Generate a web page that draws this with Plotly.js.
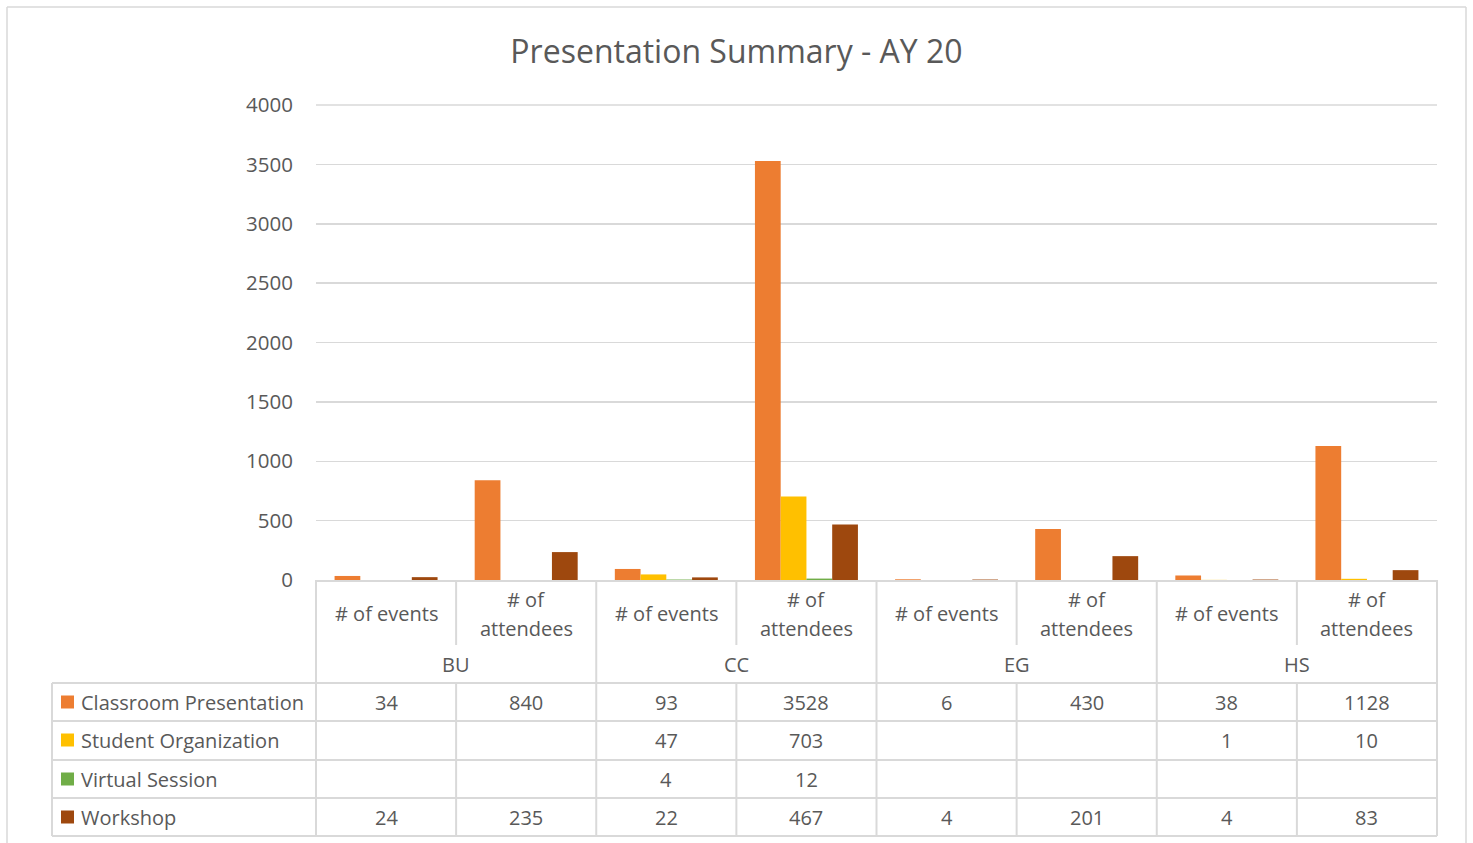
<!DOCTYPE html>
<html>
<head>
<meta charset="utf-8">
<script src="https://cdn.plot.ly/plotly-3.0.1.min.js"></script>
<style>html,body{margin:0;padding:0;background:#fff;}#chart{width:1473px;height:843px;}</style>
</head>
<body>
<div id="chart"></div>
<script>
// ---- data ----
const groups = ['BU', 'CC', 'EG', 'HS'];
const measures = ['# of events', '# of attendees'];
const seriesNames = ['Classroom Presentation', 'Student Organization', 'Virtual Session', 'Workshop'];
const classroom = [34, 840, 93, 3528, 6, 430, 38, 1128];
const studentOrg = [null, null, 47, 703, null, null, 1, 10];
const virtualSession = [null, null, 4, 12, null, null, null, null];
const workshop = [24, 235, 22, 467, 4, 201, 4, 83];
const yTicks = [0, 500, 1000, 1500, 2000, 2500, 3000, 3500, 4000];
const colors = ['#ED7D31', '#FFC000', '#70AD47', '#9E480E'];

const allSeries = [classroom, studentOrg, virtualSession, workshop];
const nCat = groups.length * measures.length;
const xIdx = Array.from({length: nCat}, (_, i) => i);

// ---- geometry (pixels -> paper) ----
const L = 316, R = 1437, T = 105, B = 580, W = 1473, H = 843;
const px = x => (x - L) / (R - L);
const py = y => (B - y) / (B - T);
const colX = i => i / nCat; // boundary i in paper
const FONT = 'Open Sans, Noto Sans, sans-serif';
const TXT = '#595959';
const LINE = '#D9D9D9';
const TSIZE = 20;

const traces = allSeries.map((vals, k) => ({
  type: 'bar', x: xIdx, y: vals, name: seriesNames[k],
  marker: {color: colors[k]}, hoverinfo: 'skip'
}));

const shapes = [];
const annotations = [];
function line(x0, y0, x1, y1, w, layer) {
  shapes.push({type: 'line', xref: 'paper', yref: 'paper', x0, y0, x1, y1,
    line: {color: LINE, width: w || 2}, layer: layer || 'above'});
}
// outer frame
line(px(7), py(7), px(1466), py(7), 1.5);
line(px(7), py(7), px(7), py(850), 1.5);
line(px(1466), py(7), px(1466), py(850), 1.5);
// top gridline (4000)
line(0, 1, 1, 1, 1.5, 'below');

// table vertical lines
for (let i = 0; i <= nCat; i++) {
  if (i % 2 === 0) line(colX(i), 0, colX(i), py(836));
  else { line(colX(i), 0, colX(i), py(645)); line(colX(i), py(683), colX(i), py(836)); }
}
line(px(52), py(683), px(52), py(836));
// table horizontal lines
[683, 721, 760, 798, 836].forEach(y => line(px(52), py(y), 1, py(y)));

function txt(x, y, text, anchor) {
  annotations.push({xref: 'paper', yref: 'paper', x, y, text, showarrow: false,
    font: {family: FONT, size: TSIZE, color: TXT}, xanchor: anchor || 'center', yanchor: 'middle'});
}
// header labels
for (let g = 0; g < groups.length; g++) {
  for (let m = 0; m < measures.length; m++) {
    const c = g * measures.length + m;
    const xc = (c + 0.5) / nCat;
    const words = measures[m].split(' ');
    if (measures[m].length > 12) {
      txt(xc, py(599), words.slice(0, 2).join(' '));
      txt(xc, py(628), words.slice(2).join(' '));
    } else {
      txt(xc, py(613), measures[m]);
    }
  }
  txt((g + 0.5) * measures.length / nCat, py(664), groups[g]);
}
// rows
const rowY = [702, 740, 779, 817];
allSeries.forEach((vals, k) => {
  const yc = rowY[k];
  shapes.push({type: 'rect', xref: 'paper', yref: 'paper', x0: px(61), x1: px(74),
    y0: py(yc - 6.5), y1: py(yc + 6.5), fillcolor: colors[k], line: {width: 0}});
  txt(px(79), py(yc), seriesNames[k], 'left');
  vals.forEach((v, c) => {
    if (v === null) return;
    txt((c + 0.5) / nCat, py(yc), String(v));
  });
});

const layout = {
  width: W, height: H,
  margin: {l: L, r: W - R, t: T, b: H - B, pad: 0},
  paper_bgcolor: '#fff', plot_bgcolor: '#fff',
  title: {text: 'Presentation Summary - AY 20', x: 0.5, xref: 'container', xanchor: 'center',
    y: 1 - 52 / H, yref: 'container', yanchor: 'middle',
    font: {family: FONT, size: 32, color: TXT}},
  showlegend: false,
  barmode: 'group', bargap: 0.265, bargroupgap: 0,
  xaxis: {range: [-0.5, nCat - 0.5], showticklabels: false, showgrid: false, zeroline: false,
    showline: true, linecolor: LINE, linewidth: 2, ticks: '', fixedrange: true},
  yaxis: {range: [0, 4000], tickvals: yTicks, showgrid: true, gridcolor: LINE, gridwidth: 1.5,
    zeroline: false, showline: false, ticks: '', ticklabelstandoff: 22,
    tickfont: {family: FONT, size: 20.5, color: TXT}, fixedrange: true},
  shapes, annotations
};
Plotly.newPlot('chart', traces, layout, {displayModeBar: false, staticPlot: true});
</script>
</body>
</html>
